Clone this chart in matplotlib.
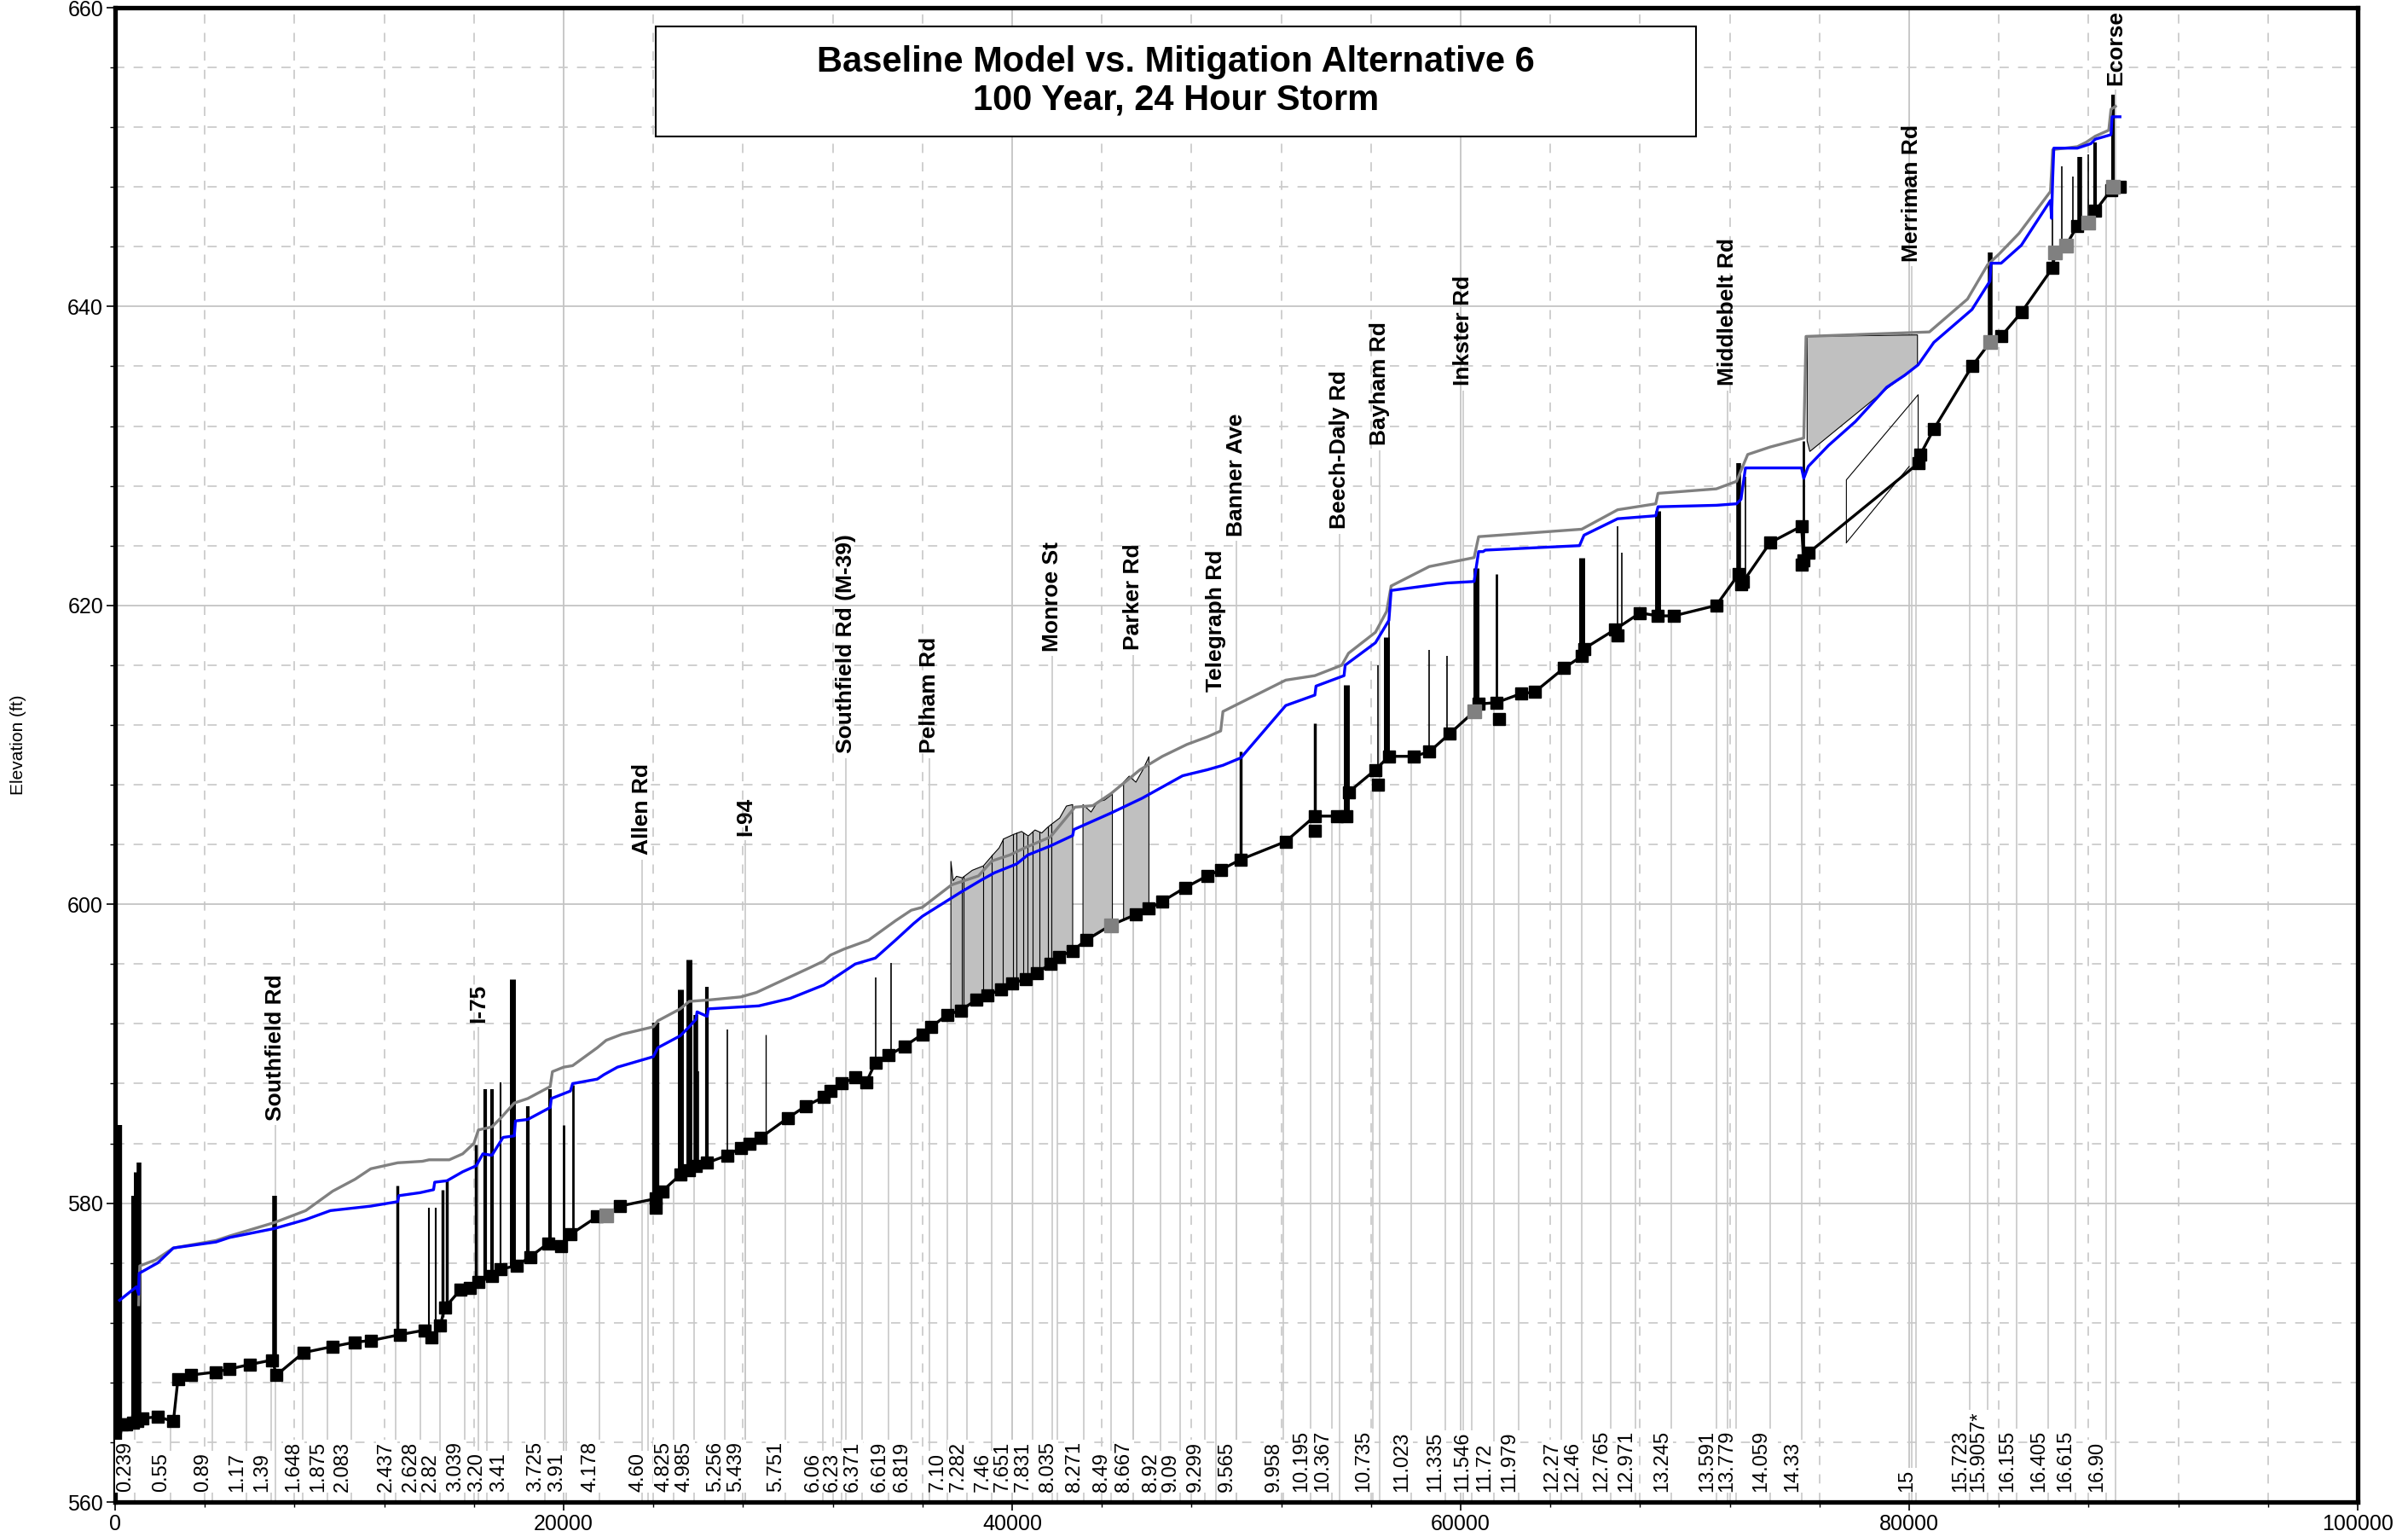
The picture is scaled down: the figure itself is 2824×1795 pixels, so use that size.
import numpy as np
import matplotlib
matplotlib.use("Agg")
import matplotlib.pyplot as plt
from matplotlib.patches import Rectangle
from matplotlib.ticker import MultipleLocator

plt.rcParams["font.family"] = ["Liberation Sans", "DejaVu Sans"]

## Profile data (distance in ft, elevation in ft) ##
ground_x = [100, 300, 500, 800, 1000, 1200, 1900, 2600, 2800, 3400, 4500, 5100, 6000, 7000,
            7200, 8400, 9700, 10700, 11400, 12700, 13800, 14100, 14500, 14700, 15400, 15800,
            16200, 16800, 17200, 17900, 18500, 19300, 19900, 20300, 21500, 21900, 22500,
            24100, 24400, 25200, 25600, 25900, 26400, 27300, 27900, 28300, 28800, 30000,
            30800, 31600, 31900, 32400, 33000, 33500, 33900, 34500, 35200, 36000, 36400,
            37100, 37700, 38400, 38900, 39500, 40000, 40600, 41100, 41700, 42100, 42700,
            43300, 44400, 45500, 46100, 46700, 47700, 48700, 49300, 50200, 52200, 53500,
            54500, 54900, 55000, 56200, 56800, 57900, 58600, 59500, 60600, 60800, 61600,
            62700, 63300, 64600, 65400, 65500, 66900, 68000, 68800, 69500, 71400, 72400,
            72600, 73800, 75200, 75300, 75500, 80400, 80500, 81100, 82800, 83600, 84100,
            85000, 86400, 86500, 87000, 87500, 88000, 88300, 89000, 89100, 89400]
ground_y = [563.0, 565.2, 565.2, 565.3, 565.4, 565.6, 565.7, 565.4, 568.2, 568.5, 568.7, 568.9,
            569.2, 569.5, 568.5, 570.0, 570.4, 570.7, 570.8, 571.2, 571.5, 571.0, 571.8, 573.0,
            574.2, 574.3, 574.7, 575.1, 575.6, 575.8, 576.4, 577.3, 577.1, 577.9, 579.1, 579.2,
            579.8, 580.3, 580.8, 581.9, 582.2, 582.5, 582.7, 583.2, 583.7, 584.0, 584.4, 585.7,
            586.5, 587.1, 587.5, 588.0, 588.4, 588.1, 589.4, 589.9, 590.5, 591.3, 591.8, 592.6,
            592.9, 593.6, 593.9, 594.3, 594.7, 595.0, 595.4, 596.0, 596.5, 596.9, 597.6, 598.6,
            599.3, 599.7, 600.2, 601.1, 601.9, 602.3, 603.0, 604.2, 605.9, 605.9, 605.9, 607.5,
            609.0, 609.9, 609.9, 610.2, 611.4, 612.9, 613.4, 613.5, 614.1, 614.2, 615.8, 616.6,
            617.1, 618.4, 619.5, 619.3, 619.3, 620.0, 622.1, 621.6, 624.2, 625.3, 623.0, 623.5,
            629.5, 630.1, 631.8, 636.0, 637.6, 638.0, 639.6, 642.6, 643.6, 644.1, 645.4, 645.6,
            646.4, 647.8, 648.0, 648.0]

gray_pts_x = [21900, 44400, 60600, 83600, 86500, 87000, 88000, 89100]
gray_pts_y = [579.2, 598.6, 612.9, 637.6, 643.6, 644.1, 645.6, 648.0]
low_pts_x = [24100, 53500, 56300, 61700, 67000, 72500, 75200]
low_pts_y = [579.7, 604.9, 608.0, 612.4, 618.0, 621.4, 622.7]

baseline_x = [1050, 1100, 1800, 2600, 4500, 5100, 7100, 8500, 9700, 10700, 11400, 12600, 13700,
              14000, 14900, 15500, 16000, 16200, 16800, 17200, 17800, 18400, 19400, 19500,
              20000, 20400, 21500, 21900, 22600, 24000, 24200, 25200, 25600, 26500, 27900,
              28600, 30900, 31600, 31900, 32500, 33600, 34800, 35500, 36000, 37300, 38500,
              39100, 39900, 40600, 41700, 42800, 43600, 44400, 45700, 46700, 47800, 48700,
              49300, 49400, 50200, 52200, 53500, 54700, 55000, 56200, 56700, 56900, 58600,
              60600, 60800, 65400, 67000, 68700, 68800, 71400, 72300, 72800, 73800, 75300,
              75400, 80900, 82600, 83500, 84000, 84900, 86300, 86400, 87500, 87900, 88300,
              88900, 89000, 89200]
baseline_y = [573.2, 575.8, 576.2, 577.0, 577.5, 577.8, 578.7, 579.5, 580.8, 581.6, 582.3, 582.7,
              582.8, 582.9, 582.9, 583.3, 584.0, 584.9, 585.1, 585.7, 586.7, 587.0, 587.8, 588.8,
              589.1, 589.2, 590.4, 590.9, 591.3, 591.8, 592.2, 593.0, 593.5, 593.6, 593.8, 594.1,
              595.7, 596.2, 596.6, 597.0, 597.6, 598.9, 599.6, 599.8, 601.3, 601.9, 602.9, 603.3,
              603.8, 604.5, 606.5, 606.6, 607.4, 609.0, 609.9, 610.7, 611.2, 611.6, 612.9, 613.5,
              615.0, 615.3, 616.0, 616.8, 618.2, 619.6, 621.3, 622.6, 623.2, 624.6, 625.1, 626.4,
              626.8, 627.5, 627.8, 628.3, 630.1, 630.6, 631.2, 638.0, 638.3, 640.5, 642.8, 643.5,
              644.9, 647.7, 650.5, 650.7, 651.0, 651.4, 651.8, 653.2, 653.4]

mitigation_x = [200, 950, 1050, 1070, 1900, 2600, 4500, 5100, 7100, 8500, 9600, 11400, 12600,
                12650, 13600, 14200, 14250, 14800, 15500, 16100, 16400, 16800, 17300, 17800,
                17850, 18400, 19400, 19450, 20300, 20400, 21500, 21800, 22400, 24000, 24200,
                25200, 25600, 25900, 25950, 26400, 26450, 28700, 30100, 31600, 33000, 33900,
                34800, 35600, 36000, 37700, 38600, 39200, 40200, 40700, 41700, 42700, 42750,
                44400, 45800, 47600, 48700, 49400, 50200, 52200, 53500, 53550, 54800, 54850,
                56200, 56800, 56900, 59400, 60600, 60800, 61000, 61100, 65300, 65500, 67000,
                68700, 68800, 71400, 72300, 72500, 72700, 75200, 75300, 75500, 76400, 77600,
                79000, 79800, 80400, 81100, 82800, 83600, 83650, 84100, 85000, 86300, 86350,
                86400, 86450, 87500, 88100, 88300, 89000, 89050, 89400]
mitigation_y = [573.5, 574.4, 573.9, 575.3, 576.0, 577.0, 577.4, 577.7, 578.3, 578.9, 579.5,
                579.8, 580.1, 580.5, 580.7, 580.9, 581.4, 581.5, 582.1, 582.5, 583.3, 583.2,
                584.4, 584.5, 585.5, 585.6, 586.4, 587.0, 587.5, 588.0, 588.3, 588.6, 589.1,
                589.8, 590.4, 591.2, 591.8, 592.3, 592.8, 592.5, 593.0, 593.2, 593.7, 594.6,
                596.0, 596.4, 597.6, 598.7, 599.2, 600.8, 601.6, 602.1, 602.7, 603.3, 603.9,
                604.6, 605.0, 606.1, 607.1, 608.6, 609.0, 609.3, 609.8, 613.3, 614.0, 614.6,
                615.3, 616.0, 617.5, 619.0, 621.0, 621.5, 621.6, 623.6, 623.6, 623.7, 624.0,
                624.7, 625.8, 626.0, 626.6, 626.7, 626.8, 627.1, 629.2, 629.2, 628.5, 629.3,
                630.7, 632.3, 634.6, 635.4, 636.1, 637.6, 639.8, 641.7, 642.9, 642.9, 644.1,
                647.1, 645.9, 648.6, 650.6, 650.6, 650.9, 651.2, 651.5, 652.7, 652.7]

# bridge / culvert decks: station, top elevation, line width
deck_x = [150, 800, 950, 1070, 7100, 12600, 14000, 14300, 14600, 14800, 16100, 16500, 16800,
          17200, 17700, 18400, 19400, 20000, 20400, 24100, 25200, 25500, 25600, 25900, 26000,
          26400, 27300, 29000, 33900, 34600, 50200, 53500, 54900, 56300, 56700, 56800, 58600,
          59400, 60700, 61600, 65400, 67000, 67200, 68800, 72400, 72700, 75300, 83600, 86400,
          86800, 87300, 87600, 88000, 88300, 89100]
deck_top = [585.2, 580.5, 582.1, 582.7, 580.5, 581.2, 579.7, 579.7, 580.9, 581.5, 583.9, 587.6,
            587.6, 588.1, 595.0, 586.5, 587.6, 585.2, 587.9, 592.1, 594.3, 589.0, 596.3, 592.6,
            588.8, 594.5, 591.6, 591.3, 595.1, 596.1, 610.2, 612.1, 614.7, 616.0, 617.9, 620.2,
            617.0, 616.6, 622.5, 622.1, 623.2, 625.3, 623.5, 626.3, 629.5, 628.6, 631.0, 643.6,
            650.5, 649.4, 648.7, 650.0, 650.2, 651.0, 654.2]
deck_lw = [6, 3, 5, 4, 4, 2.5, 1.5, 1.5, 2.5, 2.5, 2.5, 3, 3, 1.5, 5, 3, 3, 2, 2, 6, 5, 1.2, 5,
           4, 1.2, 3, 1.2, 1, 1.2, 1.2, 2.5, 2.5, 5, 1.2, 5, 1.2, 1.2, 1.2, 5, 2, 5, 1.2, 1.2, 5,
           4, 1.2, 2, 4, 1.2, 1.2, 1.2, 4, 1.2, 3, 3]

# ineffective flow fills near Pelham - Parker
fill_a_x = [[37250, 37350, 37500, 37760, 38200, 38700, 39100, 39400, 39600, 40040, 40400,
             40700, 41000, 41300, 41580, 41750, 42100, 42400, 42680],
            [43140, 43500, 43800, 44100, 44450],
            [44950, 45200, 45500, 45800, 46080]]
fill_a_top = [[602.9, 601.6, 601.9, 601.8, 602.3, 602.6, 603.3, 603.8, 604.4, 604.7, 604.9,
               604.6, 605.0, 604.8, 605.2, 605.4, 605.8, 606.6, 606.7],
              [606.7, 606.2, 606.9, 607.0, 607.4],
              [608.2, 608.6, 608.2, 609.0, 609.9]]
divider_x = [37760, 37840, 38700, 39100, 39600, 40040, 40200, 40500, 40700, 40900, 41200,
             41580, 41750]
fill_b_x = [75450, 80370, 80370, 79800, 79000, 75570, 75450]
fill_b_y = [638.0, 638.1, 636.1, 635.4, 634.5, 630.3, 631.0]
frame_x = [77200, 77200, 80400, 80400]
frame_y = [624.2, 628.4, 634.1, 629.9]

road_names = ["Southfield Rd", "I-75", "Allen Rd", "I-94", "Southfield Rd (M-39)", "Pelham Rd",
              "Monroe St", "Parker Rd", "Telegraph Rd", "Banner Ave", "Beech-Daly Rd",
              "Bayham Rd", "Inkster Rd", "Middlebelt Rd", "Merriman Rd", "Ecorse"]
road_x = [7150, 16200, 23500, 28100, 32600, 36300, 41800, 45400, 49100, 50000, 54600, 56400,
          60100, 71900, 80100, 89200]
road_y = [585.5, 592.1, 603.3, 604.6, 610.1, 610.1, 616.9, 617.0, 614.2, 624.6, 625.1, 630.7,
          634.7, 634.7, 643.0, 654.8]

station_names = ["0.239", "0.55", "0.89", "1.17", "1.39", "1.648", "1.875", "2.083", "2.437",
                 "2.628", "2.82", "3.039", "3.20", "3.41", "3.725", "3.91", "4.178", "4.60",
                 "4.825", "4.985", "5.256", "5.439", "5.751", "6.06", "6.23", "6.371", "6.619",
                 "6.819", "7.10", "7.282", "7.46", "7.651", "7.831", "8.035", "8.271", "8.49",
                 "8.667", "8.92", "9.09", "9.299", "9.565", "9.958", "10.195", "10.367",
                 "10.735", "11.023", "11.335", "11.546", "11.72", "11.979", "12.27", "12.46",
                 "12.765", "12.971", "13.245", "13.591", "13.779", "14.059", "14.33", "15",
                 "15.723", "15.9057*", "16.155", "16.405", "16.615", "16.90"]
station_x = [880, 2470, 4330, 5860, 6950, 8370, 9460, 10550, 12520, 13600, 14500, 15600, 16560,
             17540, 19180, 20120, 21600, 23760, 24900, 25800, 27200, 28100, 29900, 31560, 32400,
             33300, 34500, 35500, 37100, 38000, 39100, 40000, 40900, 42000, 43200, 44400, 45400,
             46600, 47500, 48600, 50000, 52100, 53300, 54250, 56100, 57800, 59300, 60500, 61500,
             62600, 64500, 65400, 66700, 67800, 69400, 71400, 72300, 73800, 75200, 80300, 82700,
             83500, 84800, 86200, 87400, 88800]

fig = plt.figure(figsize=(28.24, 17.95), dpi=100)
ax = fig.add_axes([135 / 2824, 34 / 1795, 2630 / 2824, 1752 / 1795])
ax.set_xlim(0, 100000)
ax.set_ylim(560, 660)

ax.xaxis.set_major_locator(MultipleLocator(20000))
ax.xaxis.set_minor_locator(MultipleLocator(4000))
ax.yaxis.set_major_locator(MultipleLocator(20))
ax.yaxis.set_minor_locator(MultipleLocator(4))
ax.grid(which="major", color="#c4c4c4", lw=1.3, ls="-", zorder=0)
ax.grid(which="minor", color="#cccccc", lw=1.3, ls=(0, (6, 6)), zorder=0)
ax.set_axisbelow(True)
ax.tick_params(which="major", direction="out", length=7, width=1.2, labelsize=18, pad=3)
ax.tick_params(which="minor", direction="out", length=4, width=1.0)
for s in ax.spines.values():
    s.set_linewidth(3.8)

# cross-section lines
gx = np.array(ground_x)
gy = np.array(ground_y)
sx = np.array(station_x)
ax.vlines(sx, 560, np.interp(sx, gx, gy), color="#c8c8c8", lw=1.2, zorder=1)
ax.vlines(road_x, 560, np.array(road_y) - 0.3, color="#c8c8c8", lw=1.2, zorder=1)

# ineffective flow areas
for xs, tops in zip(fill_a_x, fill_a_top):
    xs = np.array(xs)
    ax.fill_between(xs, np.interp(xs, gx, gy), tops, facecolor="#c0c0c0",
                    edgecolor="black", lw=0.8, zorder=2)
dv = np.array(divider_x)
ax.vlines(dv, np.interp(dv, gx, gy), np.interp(dv, fill_a_x[0], fill_a_top[0]),
          color="black", lw=0.8, zorder=2)
ax.fill(fill_b_x, fill_b_y, facecolor="#c0c0c0", edgecolor="black", lw=0.8, zorder=2)
ax.plot(frame_x, frame_y, color="black", lw=0.8, zorder=2)
ax.plot([77200, 80000], [624.2, 629.3], color="black", lw=0.8, zorder=2)

# bridges
dx = np.array(deck_x)
ax.vlines(dx, np.interp(dx, gx, gy), deck_top, color="black", linewidths=deck_lw, zorder=3)

# water surfaces and channel invert
ax.plot(baseline_x, baseline_y, color="#808080", lw=2.4, zorder=4)
ax.plot(mitigation_x, mitigation_y, color="#0000ff", lw=2.4, zorder=4)
ax.plot(ground_x, ground_y, color="black", lw=2.4, marker="s", ms=10, zorder=5)
ax.plot(low_pts_x, low_pts_y, ls="none", color="black", marker="s", ms=10, zorder=5)
ax.plot(gray_pts_x, gray_pts_y, ls="none", color="#808080", marker="s", ms=11, zorder=6)

# road labels
for name, x, y in zip(road_names, road_x, road_y):
    ax.text(x, y, name, rotation=90, ha="center", va="bottom", fontsize=19,
            fontweight="bold", zorder=7)

# river station labels
trans = ax.get_xaxis_transform()
for name, x in zip(station_names, station_x):
    ax.text(x, 0.007, name, rotation=90, ha="right", va="bottom", fontsize=17,
            transform=trans, zorder=8,
            bbox=dict(facecolor="white", edgecolor="none", pad=1.0))

# title box
ax.add_patch(Rectangle((0.241, 0.9138), 0.464, 0.0736, transform=ax.transAxes,
                       facecolor="white", edgecolor="black", lw=1.5, zorder=9))
ax.text(0.473, 0.951, "Baseline Model vs. Mitigation Alternative 6\n100 Year, 24 Hour Storm",
        transform=ax.transAxes, ha="center", va="center", fontsize=30, fontweight="bold",
        linespacing=1.15, zorder=10)

fig.text(22 / 2824, 1 - 873 / 1795, "Elevation (ft)", rotation=90, ha="center", va="center",
         fontsize=15)

fig.savefig("out.png", dpi=100)
